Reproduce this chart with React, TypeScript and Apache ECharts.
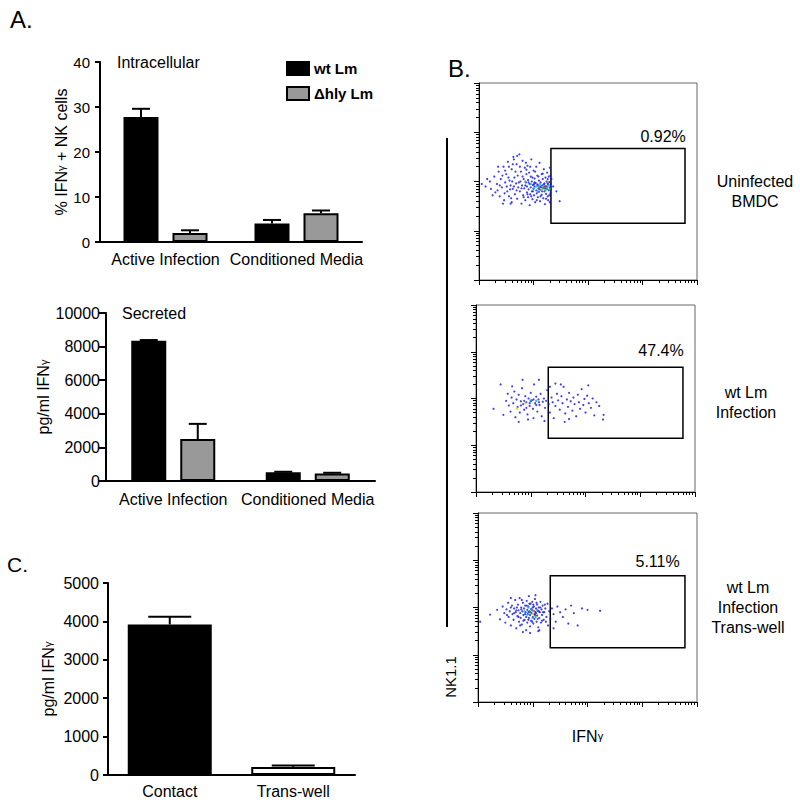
import React, { useEffect, useRef } from "react";
import * as echarts from "echarts";

const FONT = "'Liberation Sans', Arial, Helvetica, sans-serif";

// ---------- Panel A (bar charts) ----------
const groupCategories = ["Active Infection", "Conditioned Media"];
const seriesNames = ["wt Lm", "\u0394hly Lm"];
const intraYTicks = [0, 10, 20, 30, 40];
const intraWt = [27.8, 4.1];
const intraWtErr = [1.8, 0.8];
const intraHly = [2.0, 6.4];
const intraHlyErr = [0.6, 0.6];
const secYTicks = [0, 2000, 4000, 6000, 8000, 10000];
const secWt = [8350, 520];
const secWtErr = [40, 30];
const secHly = [2500, 450];
const secHlyErr = [900, 40];

// ---------- Panel C ----------
const contactCategories = ["Contact", "Trans-well"];
const contactYTicks = [0, 1000, 2000, 3000, 4000, 5000];
const contactValues = [3920, 210];
const contactErr = [200, 40];

// ---------- Panel B (flow cytometry, log10 units) ----------
const flowDecades = [0, 1, 2, 3, 4];
const gateX = [1.32, 3.78];
const gateY = [1.15, 2.67];
const gatePercents = ["0.92%", "47.4%", "5.11%"];
const sampleLabels = ["Uninfected\nBMDC", "wt Lm\nInfection", "wt Lm\nInfection\nTrans-well"];

const flow1Points = [
  [0.05,1.95],[0.12,1.9],[0.2,2.0],[0.22,1.85],[0.28,2.1],[0.3,1.78],[0.33,1.95],[0.36,2.2],[0.38,1.7],[0.4,2.05],
  [0.42,1.88],[0.45,2.3],[0.46,1.62],[0.48,1.98],[0.5,2.15],[0.52,1.8],[0.53,2.4],[0.55,1.7],[0.56,2.02],[0.58,1.92],
  [0.6,2.25],[0.6,1.58],[0.62,1.85],[0.63,2.5],[0.65,2.08],[0.66,1.74],[0.68,1.96],[0.69,2.35],[0.7,1.65],[0.71,2.12],
  [0.72,1.88],[0.74,2.55],[0.75,1.8],[0.76,2.0],[0.77,2.2],[0.78,1.55],[0.79,1.92],[0.8,2.42],[0.81,1.72],[0.82,2.05],
  [0.83,1.86],[0.84,2.28],[0.85,1.62],[0.86,1.98],[0.87,2.15],[0.88,1.78],[0.88,1.9],[0.89,2.32],[0.9,1.68],[0.9,2.03],
  [0.91,1.84],[0.92,2.18],[0.93,1.52],[0.93,1.95],[0.94,1.74],[0.95,2.1],[0.95,1.88],[0.96,2.45],[0.97,1.8],[0.97,2.0],
  [0.98,1.64],[0.99,1.93],[1.0,2.22],[1.0,1.85],[1.01,1.72],[1.02,2.06],[1.02,1.9],[1.03,1.58],[1.04,1.97],[1.05,2.3],
  [1.05,1.82],[1.06,1.76],[1.07,2.12],[1.07,1.94],[1.08,1.68],[1.09,1.86],[1.1,2.02],[1.1,1.79],[1.11,2.38],[1.12,1.9],
  [1.12,1.6],[1.13,1.98],[1.14,1.83],[1.15,2.15],[1.15,1.73],[1.16,1.92],[1.17,2.05],[1.18,1.66],[1.18,1.87],[1.19,2.25],
  [1.2,1.8],[1.2,1.96],[1.21,1.54],[1.22,2.08],[1.22,1.9],[1.23,1.75],[1.24,2.0],[1.25,1.85],[1.25,2.18],[1.26,1.7],
  [1.27,1.94],[1.27,1.62],[1.28,2.1],[1.28,1.82],[1.29,1.99],[1.3,1.88],[1.3,2.28],[1.31,1.76],[1.32,1.95],[1.33,2.05],
  [1.36,1.9],[1.42,1.8],[1.48,1.6],[0.15,2.05],[0.25,1.72],[0.35,2.3],[0.44,1.55],[0.64,2.45],[0.7,2.52],[0.55,2.3],
  [1.02,1.98],[1.08,1.92],[1.14,1.88],[1.19,1.94],[1.24,1.9],[1.16,1.8],[1.26,1.96],[0.99,1.8],[1.11,1.84],[1.21,1.86],
  [0.38,1.92],[0.43,2.12],[0.47,1.76],[0.51,1.9],[0.54,2.08],[0.57,1.84],[0.59,1.66],[0.61,2.0],[0.64,1.9],[0.67,2.2],
  [0.69,1.82],[0.73,1.98],[0.75,2.3],[0.78,1.86],[0.8,2.1],[0.82,1.68],[0.85,1.92],[0.87,2.24],[0.89,1.74],[0.91,1.98],
  [0.94,2.3],[0.96,1.7],[0.98,2.08],[1.01,1.95],[1.03,2.2],[1.06,1.62],[1.09,2.1],[1.13,1.7],[1.17,2.16],[1.23,1.65],
  [1.26,2.05],[1.29,1.72],[1.31,2.12],[1.32,1.84],[1.3,1.58],[0.62,2.35],[0.86,2.38],[0.58,1.55],[0.48,2.22],[0.34,1.82]
];
const flow1Dense = [
  [1.1,1.88,2],[1.15,1.84,3],[1.2,1.9,4],[1.18,1.86,2],[1.05,1.9,1],[1.25,1.87,1],[1.22,1.82,2],
  [1.12,1.95,1],[1.28,1.92,1],[1.0,1.86,1],[0.95,1.95,1],[1.3,1.85,2],[0.85,2.0,1],[1.08,1.8,1]
];

const flow2Points = [
  [0.32,1.78],[0.45,2.3],[0.5,1.65],[0.55,1.95],[0.58,2.1],[0.6,1.85],[0.63,1.72],[0.65,2.02],[0.68,1.9],[0.7,2.15],
  [0.72,1.6],[0.74,1.98],[0.76,1.82],[0.78,2.08],[0.8,1.7],[0.82,1.94],[0.84,2.22],[0.86,1.88],[0.88,1.76],[0.9,2.05],
  [0.92,1.92],[0.94,1.66],[0.96,2.0],[0.98,1.84],[1.0,2.12],[1.02,1.96],[1.04,1.78],[1.06,2.3],[1.08,1.9],[1.1,2.04],
  [1.12,1.72],[1.14,1.98],[1.16,1.86],[1.18,2.1],[1.2,1.62],[1.22,1.93],[1.24,2.0],[1.26,1.8],[1.28,1.95],[1.3,2.18],
  [1.33,1.88],[1.35,1.7],[1.38,2.02],[1.4,1.92],[1.42,1.58],[1.45,1.84],[1.48,2.1],[1.5,1.96],[1.53,1.76],[1.56,2.05],
  [1.58,1.9],[1.6,2.25],[1.63,1.68],[1.66,1.98],[1.68,1.82],[1.7,2.12],[1.73,1.94],[1.76,1.74],[1.78,2.02],[1.8,1.88],
  [1.83,1.62],[1.86,2.08],[1.88,1.92],[1.9,1.78],[1.93,2.2],[1.96,1.86],[1.98,1.99],[2.0,1.7],[2.03,2.06],[2.06,1.9],
  [2.1,1.8],[2.13,2.0],[2.16,1.64],[2.2,1.92],[2.25,1.84],[2.32,1.55],[2.33,1.65],[1.05,1.58],[0.85,2.4],[1.45,2.32],
  [1.25,1.52],[0.95,1.55],[1.7,1.56],[1.55,2.3],[2.05,2.28],[0.78,1.5],[1.15,2.4],[1.62,1.5],[0.66,2.26],[1.35,2.25],
  [0.88,1.95],[0.98,1.9],[1.05,1.98],[0.92,1.8],[1.1,1.86],[1.0,1.94],[0.82,1.85],[1.15,1.92]
];
const flow2Dense = [[0.9,1.9,3],[1.0,1.96,1],[1.1,1.95,1],[0.75,1.78,3]];

const flow3Points = [
  [0.04,1.7],[0.22,1.85],[0.35,1.95],[0.4,1.75],[0.45,2.02],[0.48,1.88],[0.5,1.68],[0.52,1.96],[0.55,2.1],[0.56,1.8],
  [0.58,1.92],[0.6,1.62],[0.62,2.04],[0.63,1.86],[0.65,1.74],[0.66,1.98],[0.68,2.16],[0.69,1.9],[0.7,1.56],[0.72,1.82],
  [0.73,2.06],[0.74,1.94],[0.75,1.7],[0.76,2.2],[0.77,1.88],[0.78,1.78],[0.79,2.0],[0.8,1.64],[0.81,1.92],[0.82,2.1],
  [0.83,1.84],[0.84,1.98],[0.85,1.74],[0.86,2.04],[0.87,1.9],[0.88,1.52],[0.88,1.8],[0.89,2.14],[0.9,1.95],[0.9,1.68],
  [0.91,1.86],[0.92,2.02],[0.93,1.78],[0.93,2.24],[0.94,1.92],[0.95,1.6],[0.95,1.84],[0.96,2.08],[0.97,1.97],[0.97,1.72],
  [0.98,1.88],[0.99,2.12],[1.0,1.8],[1.0,1.94],[1.01,1.66],[1.02,2.02],[1.03,1.86],[1.03,1.76],[1.04,2.18],[1.05,1.9],
  [1.06,1.98],[1.07,1.7],[1.08,2.06],[1.08,1.83],[1.09,1.93],[1.1,1.58],[1.11,2.0],[1.12,1.78],[1.13,1.9],[1.14,2.12],
  [1.15,1.68],[1.16,1.96],[1.17,1.84],[1.18,2.04],[1.2,1.74],[1.21,1.9],[1.23,1.98],[1.25,1.8],[1.27,2.08],[1.28,1.62],
  [1.3,1.92],[1.32,1.76],[1.35,1.98],[1.38,1.86],[1.42,1.7],[1.45,2.02],[1.5,1.9],[1.55,1.8],[1.6,1.96],[1.65,1.66],
  [1.7,2.04],[1.75,1.88],[1.82,1.62],[1.9,1.98],[2.0,1.95],[2.23,1.93],[1.1,1.5],[0.82,1.48],[1.05,2.26],[0.6,2.2],
  [1.12,1.52],[0.95,1.46],[1.38,1.56],[0.7,1.94],[1.0,2.0],[0.92,1.9],[1.06,1.88],
  [0.66,1.88],[0.71,2.0],[0.74,1.8],[0.79,1.96],[0.83,1.72],[0.86,1.86],[0.89,2.04],[0.92,1.74],[0.94,2.08],[0.96,1.9],
  [0.99,1.7],[1.01,2.06],[1.04,1.84],[1.07,2.1],[1.09,1.76],[1.11,1.92],[1.14,2.0],[1.17,1.72],[1.19,1.9],[1.22,2.06],
  [0.8,2.16],[0.77,1.62],[1.24,1.7],[0.53,1.84],[0.6,2.0]
];
const flow3Dense = [
  [0.95,1.9,2],[1.0,1.86,3],[0.98,1.95,2],[1.03,1.92,4],[0.9,1.85,1],
  [1.05,1.8,2],[0.92,2.0,1],[1.08,1.95,1],[0.85,1.92,1],[1.0,1.78,1]
];

const densityPalette = ["#1414e6", "#00b4d2", "#22b422", "#e0d000", "#e62020"];

// ---------- layout (pixels) ----------
const BAR_GRIDS = [
  { left: 100, top: 62, width: 262, height: 180 },
  { left: 106, top: 313, width: 269, height: 168 },
  { left: 108, top: 583, width: 247, height: 192 },
];
const FLOW_GRIDS = [
  { left: 479, top: 83, width: 218, height: 197 },
  { left: 476, top: 305, width: 219, height: 187 },
  { left: 478, top: 513, width: 219, height: 189 },
];
const labelOffsets = [[0, -3], [0, -8], [-6, -6]];
const sampleLabelPos = [[755, 191], [746, 402], [748, 607]];

const gammaRich = { g: { fontSize: 11, fontFamily: FONT, color: "#000" } };

function errorSeries(xIdx: number, yIdx: number, means: number[], errs: number[], offset: number, capW: number) {
  return {
    type: "custom",
    xAxisIndex: xIdx,
    yAxisIndex: yIdx,
    z: 5,
    silent: true,
    data: means.map((m, i) => [i, m, m + errs[i]]),
    renderItem: (_p: any, api: any) => {
      const top = api.coord([api.value(0), api.value(2)]);
      const base = api.coord([api.value(0), api.value(1)]);
      const x = top[0] + offset;
      return {
        type: "group",
        children: [
          { type: "line", shape: { x1: x, y1: base[1], x2: x, y2: top[1] }, style: { stroke: "#000", lineWidth: 2 } },
          { type: "line", shape: { x1: x - capW / 2, y1: top[1], x2: x + capW / 2, y2: top[1] }, style: { stroke: "#000", lineWidth: 2 } },
        ],
      };
    },
  };
}

function catAxis(gridIndex: number, data: string[], margin: number) {
  return {
    type: "category",
    gridIndex,
    data,
    axisLine: { lineStyle: { color: "#000", width: 2 } },
    axisTick: { alignWithLabel: true, length: 5, lineStyle: { color: "#000", width: 2 } },
    axisLabel: { color: "#000", fontSize: 16, fontFamily: FONT, margin, interval: 0 },
    splitLine: { show: false },
  };
}

function valAxis(gridIndex: number, ticks: number[], fontSize: number, margin: number, name: string, nameGap: number, tickLen: number) {
  return {
    type: "value",
    gridIndex,
    min: ticks[0],
    max: ticks[ticks.length - 1],
    interval: ticks[1] - ticks[0],
    axisLine: { show: true, lineStyle: { color: "#000", width: 2 } },
    axisTick: { show: true, length: tickLen, lineStyle: { color: "#000", width: 2 } },
    axisLabel: { color: "#000", fontSize, fontFamily: FONT, margin, formatter: (v: number) => String(v) },
    splitLine: { show: false },
    name,
    nameLocation: "middle",
    nameRotate: 90,
    nameGap,
    nameTextStyle: { color: "#000", fontSize: 16, fontFamily: FONT, rich: gammaRich },
  };
}

const minorTicks: number[] = [];
flowDecades.slice(0, -1).forEach((d) => {
  for (let k = 2; k <= 9; k++) minorTicks.push(d + Math.log10(k));
});

function flowAxes(gridIndex: number, dim: "x" | "y", name?: string) {
  const position = dim === "x" ? "bottom" : "left";
  const major: any = {
    type: "value",
    gridIndex,
    position,
    min: flowDecades[0],
    max: flowDecades[flowDecades.length - 1],
    axisLine: { show: true, onZero: false, lineStyle: { color: "#000", width: 1 } },
    axisTick: { show: true, customValues: flowDecades, length: 5, lineStyle: { color: "#000", width: 1 } },
    axisLabel: { show: false },
    splitLine: { show: false },
  };
  if (name) {
    major.name = name;
    major.nameLocation = "middle";
    major.nameGap = 26;
    major.nameTextStyle = { color: "#000", fontSize: 16, fontFamily: FONT, rich: gammaRich };
  }
  const minor = {
    type: "value",
    gridIndex,
    position,
    offset: 0,
    min: flowDecades[0],
    max: flowDecades[flowDecades.length - 1],
    axisLine: { show: false, onZero: false },
    axisTick: { show: true, customValues: minorTicks, length: 3, lineStyle: { color: "#000", width: 1 } },
    axisLabel: { show: false },
    splitLine: { show: false },
  };
  return [major, minor];
}

function flowSeries(k: number, pts: number[][], dense: number[][]) {
  const axisIdx = 3 + k * 2;
  return [
    {
      type: "scatter",
      xAxisIndex: axisIdx,
      yAxisIndex: axisIdx,
      symbolSize: 2.2,
      silent: true,
      itemStyle: { color: densityPalette[0] },
      data: pts,
      markArea: {
        silent: true,
        itemStyle: { color: "rgba(0,0,0,0)", borderColor: "#000", borderWidth: 1.5 },
        label: {
          show: true,
          position: "insideTopRight",
          distance: 0,
          align: "right",
          verticalAlign: "bottom",
          offset: labelOffsets[k],
          color: "#000",
          fontSize: 16,
          fontFamily: FONT,
          formatter: gatePercents[k],
        },
        data: [[{ xAxis: gateX[0], yAxis: gateY[1] }, { xAxis: gateX[1], yAxis: gateY[0] }]],
      },
    },
    {
      type: "scatter",
      xAxisIndex: axisIdx,
      yAxisIndex: axisIdx,
      symbolSize: 2.4,
      silent: true,
      z: 3,
      itemStyle: { color: (p: any) => densityPalette[p.data[2]] },
      data: dense,
    },
  ];
}

export default function App() {
  const ref = useRef<HTMLDivElement>(null);
  useEffect(() => {
    if (!ref.current) return;
    const chart = echarts.init(ref.current, null, { renderer: "svg" });

    const barStyle = (color: string) => ({ color, borderColor: "#000", borderWidth: 2 });

    const xAxis: any[] = [
      catAxis(0, groupCategories, 9),
      catAxis(1, groupCategories, 10),
      catAxis(2, contactCategories, 8),
      ...flowAxes(3, "x"),
      ...flowAxes(4, "x"),
      ...flowAxes(5, "x", "IFN{g|\u03b3}"),
    ];
    const yAxis: any[] = [
      valAxis(0, intraYTicks, 15, 10, "% IFN{g|\u03b3} + NK cells", 30, 5),
      valAxis(1, secYTicks, 16, 6, "pg/ml IFN{g|\u03b3}", 54, 7),
      valAxis(2, contactYTicks, 16, 9, "pg/ml IFN{g|\u03b3}", 52, 5),
      ...flowAxes(3, "y"),
      ...flowAxes(4, "y"),
      ...flowAxes(5, "y"),
    ];

    const option: any = {
      animation: false,
      backgroundColor: "#fff",
      textStyle: { fontFamily: FONT },
      grid: [
        ...BAR_GRIDS.map((g) => ({ ...g, containLabel: false })),
        ...FLOW_GRIDS.map((g) => ({ ...g, containLabel: false, show: true, borderColor: "#666", borderWidth: 1, backgroundColor: "transparent" })),
      ],
      legend: {
        data: seriesNames,
        orient: "vertical",
        left: 281,
        top: 56,
        itemWidth: 22,
        itemHeight: 13,
        itemGap: 10,
        selectedMode: false,
        icon: "rect",
        textStyle: { color: "#000", fontSize: 15, fontWeight: "bold", fontFamily: FONT },
      },
      xAxis,
      yAxis,
      series: [
        { type: "bar", name: seriesNames[0], xAxisIndex: 0, yAxisIndex: 0, barWidth: 35, barGap: "40%", itemStyle: barStyle("#000"), data: intraWt },
        { type: "bar", name: seriesNames[1], xAxisIndex: 0, yAxisIndex: 0, barWidth: 35, barGap: "40%", itemStyle: barStyle("#999"), data: intraHly },
        errorSeries(0, 0, intraWt, intraWtErr, -24.5, 18),
        errorSeries(0, 0, intraHly, intraHlyErr, 24.5, 18),
        { type: "bar", name: seriesNames[0], xAxisIndex: 1, yAxisIndex: 1, barWidth: 35, barGap: "40%", itemStyle: barStyle("#000"), data: secWt },
        { type: "bar", name: seriesNames[1], xAxisIndex: 1, yAxisIndex: 1, barWidth: 35, barGap: "40%", itemStyle: barStyle("#999"), data: secHly },
        errorSeries(1, 1, secWt, secWtErr, -24.5, 18),
        errorSeries(1, 1, secHly, secHlyErr, 24.5, 18),
        {
          type: "bar",
          name: "contact",
          xAxisIndex: 2,
          yAxisIndex: 2,
          barWidth: 84,
          data: contactValues.map((v, i) => ({ value: v, itemStyle: barStyle(i === 0 ? "#000" : "#fff") })),
        },
        errorSeries(2, 2, contactValues, contactErr, 0, 43),
        ...flowSeries(0, flow1Points, flow1Dense),
        ...flowSeries(1, flow2Points, flow2Dense),
        ...flowSeries(2, flow3Points, flow3Dense),
      ],
      graphic: [
        { type: "text", x: 10, y: 7, style: { text: "A.", fontSize: 24, fontFamily: FONT, fill: "#000" } },
        { type: "text", x: 448, y: 56, style: { text: "B.", fontSize: 24, fontFamily: FONT, fill: "#000" } },
        { type: "text", x: 7, y: 554, style: { text: "C.", fontSize: 21, fontFamily: FONT, fill: "#000" } },
        { type: "text", x: 117, y: 62, style: { text: "Intracellular", fontSize: 16, fontFamily: FONT, fill: "#000", verticalAlign: "middle" } },
        { type: "text", x: 122, y: 313, style: { text: "Secreted", fontSize: 16, fontFamily: FONT, fill: "#000", verticalAlign: "middle" } },
        ...sampleLabels.map((t, i) => ({
          type: "text",
          x: sampleLabelPos[i][0],
          y: sampleLabelPos[i][1],
          style: { text: t, fontSize: 16, lineHeight: 20, fontFamily: FONT, fill: "#000", align: "center", verticalAlign: "middle" },
        })),
        { type: "line", shape: { x1: 447, y1: 138, x2: 447, y2: 627 }, style: { stroke: "#000", lineWidth: 2 } },
        {
          type: "text",
          x: 450,
          y: 677,
          rotation: Math.PI / 2,
          style: { text: "NK1.1", fontSize: 15, fontFamily: FONT, fill: "#000", align: "center", verticalAlign: "middle" },
        },
      ],
    };
    chart.setOption(option);
    return () => chart.dispose();
  }, []);

  return <div ref={ref} style={{ position: "fixed", left: 0, top: 0, width: 800, height: 804, background: "#fff" }} />;
}
